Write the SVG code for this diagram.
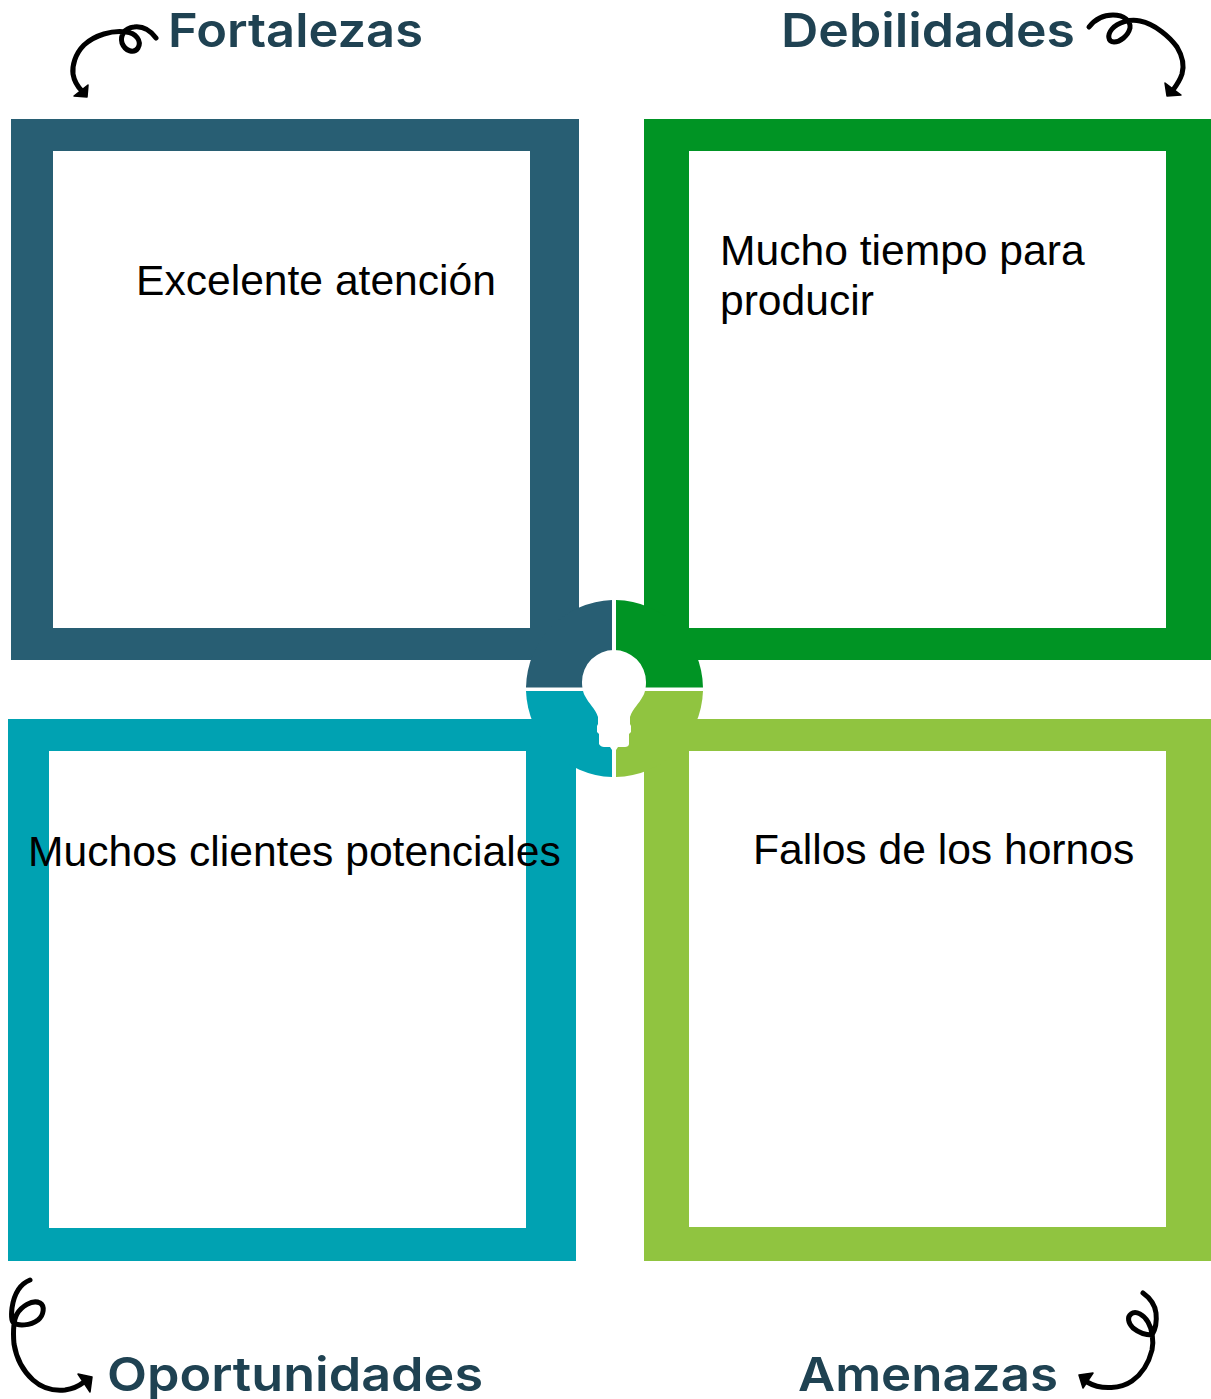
<svg xmlns="http://www.w3.org/2000/svg" width="1211" height="1399" viewBox="0 0 1211 1399">
<style>
.body{font-family:"Liberation Sans",Arial,sans-serif;font-size:42.6px;fill:#000}
.title{font-family:Inter,"Noto Sans",sans-serif;font-weight:600;font-size:47px;fill:#1f4252}
.curl{fill:none;stroke:#000;stroke-width:5;stroke-linecap:round;stroke-linejoin:round}
.tip{fill:#000;stroke:#000;stroke-width:1.500;stroke-linejoin:round}
</style>
<rect width="1211" height="1399" fill="#fff"/>
<g id="fortalezas">
<path fill-rule="evenodd" fill="#285e73" d="M11 119H579V660H11ZM53 151V628H530V151Z"/>
<text class="title" x="168" y="47" textLength="255" lengthAdjust="spacingAndGlyphs">Fortalezas</text>
<text class="body" x="136" y="295">Excelente atención</text>
</g>
<g id="debilidades">
<path fill-rule="evenodd" fill="#009424" d="M644 119H1211V660H644ZM689 151V628H1166V151Z"/>
<text class="title" x="781" y="47" textLength="294" lengthAdjust="spacingAndGlyphs">Debilidades</text>
<text class="body" x="720" y="265">Mucho tiempo para</text>
<text class="body" x="720" y="315">producir</text>
</g>
<g id="oportunidades">
<path fill-rule="evenodd" fill="#00a2b2" d="M8 719H576V1261H8ZM49 751V1228H526V751Z"/>
<text class="title" x="107" y="1391" textLength="376" lengthAdjust="spacingAndGlyphs">Oportunidades</text>
<text class="body" x="28" y="866">Muchos clientes potenciales</text>
</g>
<g id="amenazas">
<path fill-rule="evenodd" fill="#90c440" d="M644 719H1211V1261H644ZM689 751V1227H1166V751Z"/>
<text class="title" x="798" y="1391" textLength="260" lengthAdjust="spacingAndGlyphs">Amenazas</text>
<text class="body" x="753" y="864">Fallos de los hornos</text>
</g>
<g id="centro">
<path fill="#285e73" d="M612 600A89 89 0 0 0 526 687.500H612Z"/>
<path fill="#009424" d="M616 600A89 89 0 0 1 703 687.500H616Z"/>
<path fill="#00a2b2" d="M526 691H612V777A89 89 0 0 1 526 691Z"/>
<path fill="#90c440" d="M703 691A89 89 0 0 1 616 777V691Z"/>
<path fill="#fff" d="M614 650A32 32 0 0 0 582 682C582 687 583 693 585 696C589 704 595 708 598 717V724L597 726V732L599 734V744C600 746 602 747 604 747H610L612 750H616L618 747H625C627 747 629 746 629 744V734L631 732V726L630 724V717C633 708 639 704 643 696C645 693 646 687 646 682A32 32 0 0 0 614 650Z"/>
</g>
<g id="connectors">
<path class="curl" d="M156 38C150 30 142 26 134 27C124 28 120 36 122 43C125 51 134 54 138 48C142 41 136 33 126 32C112 30 95 35 84 45C75 54 72 66 73 74C74 80 77 86 82 91"/>
<path class="tip" d="M74 96L88 85L87 97Z"/>
<path class="curl" d="M1089 27C1096 18 1105 15 1113 15C1124 15 1131 21 1130 28C1128 36 1120 42 1114 42C1108 42 1107 35 1112 29C1118 22 1130 19 1140 21C1155 24 1170 37 1177 47C1183 57 1184 67 1182 74C1180 80 1176 86 1173 90"/>
<path class="tip" d="M1165 83L1167 96L1181 95Z"/>
<path class="curl" d="M30 1280C20 1284 14 1294 12 1308C11 1316 12 1322 14 1323C18 1326 30 1326 38 1320C44 1315 45 1306 40 1303C32 1299 21 1307 17 1314C13 1321 13 1332 14 1344C16 1356 22 1370 33 1380C43 1389 55 1391 65 1390C72 1389 79 1386 84 1382"/>
<path class="tip" d="M78 1374L92 1377L90 1392Z"/>
<path class="curl" d="M1143 1293C1150 1298 1155 1305 1156 1313C1157 1322 1155 1330 1152 1335C1146 1335 1138 1332 1133 1328C1128 1323 1127 1317 1131 1314C1136 1310 1144 1315 1148 1322C1152 1329 1154 1340 1152 1350C1149 1362 1142 1374 1132 1381C1122 1388 1102 1391 1087 1382"/>
<path class="tip" d="M1079 1375L1093 1373L1083 1388Z"/>
</g>
</svg>
